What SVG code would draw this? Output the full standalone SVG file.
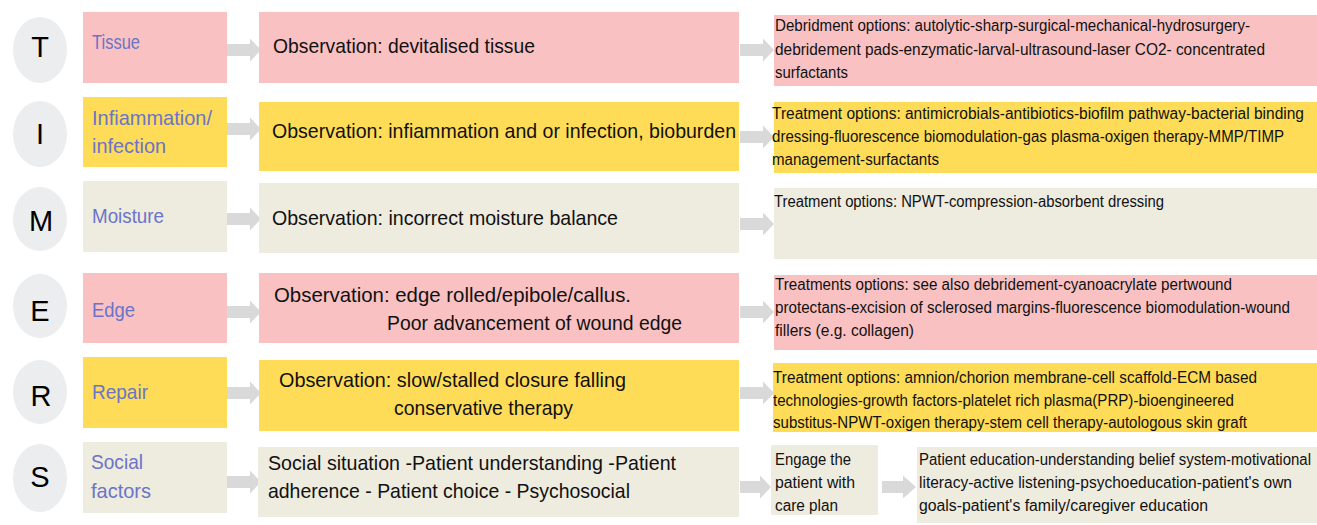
<svg xmlns="http://www.w3.org/2000/svg" width="1317" height="525" viewBox="0 0 1317 525">
<style>
.pink{fill:#f9c1c1}
.yel{fill:#ffdc57}
.beige{fill:#eeebdf}
.circ{fill:#ecedee}
.letter{font-family:"Liberation Sans",Arial,sans-serif;font-size:29px;fill:#000;text-anchor:middle}
.lab{font-family:"Liberation Sans",Arial,sans-serif;font-size:21px;fill:#6a74c8}
.obs{font-family:"Liberation Sans",Arial,sans-serif;font-size:21px;fill:#111}
.opt{font-family:"Liberation Sans",Arial,sans-serif;font-size:16px;fill:#111}
.arr{fill:#d9d9d9}
</style>
<rect width="1317" height="525" fill="#fff"/>

<g id="connectors">
<path class="arr" d="M227,44 H250 V38.5 L261,50 L250,61.5 V56 H227 Z"/>
<path class="arr" d="M227,123 H250 V117.5 L261,129 L250,140.5 V135 H227 Z"/>
<path class="arr" d="M227,213 H250 V207.5 L261,219 L250,230.5 V225 H227 Z"/>
<path class="arr" d="M227,306 H250 V300.5 L261,312 L250,323.5 V318 H227 Z"/>
<path class="arr" d="M227,387 H250 V381.5 L261,393 L250,404.5 V399 H227 Z"/>
<path class="arr" d="M227,476 H250 V470.5 L261,482 L250,493.5 V488 H227 Z"/>

<path class="arr" d="M740,44 H763 V38.5 L774,50 L763,61.5 V56 H740 Z"/>
<path class="arr" d="M740,131 H763 V125.5 L774,137 L763,148.5 V143 H740 Z"/>
<path class="arr" d="M740,218 H763 V212.5 L774,224 L763,235.5 V230 H740 Z"/>
<path class="arr" d="M740,306 H763 V300.5 L774,312 L763,323.5 V318 H740 Z"/>
<path class="arr" d="M740,387 H763 V381.5 L774,393 L763,404.5 V399 H740 Z"/>
<path class="arr" d="M740,481 H760 V475.5 L771,487 L760,498.5 V493 H740 Z"/>
<path class="arr" d="M882,481 H903 V475.5 L916,487 L903,498.5 V493 H882 Z"/>
</g>

<g id="row-T">
<ellipse class="circ" cx="40" cy="50" rx="27" ry="33"/>
<text class="letter" x="40" y="57">T</text>
<rect class="pink" x="83" y="12" width="144" height="71"/>
<text class="lab" x="92" y="49" textLength="48" lengthAdjust="spacingAndGlyphs">Tissue</text>
<rect class="pink" x="259" y="12" width="480" height="71"/>
<text class="obs" x="273" y="53" textLength="262" lengthAdjust="spacingAndGlyphs">Observation: devitalised tissue</text>
<rect class="pink" x="774" y="15" width="543" height="71"/>
<text class="opt" x="775" y="31" textLength="475" lengthAdjust="spacingAndGlyphs">Debridment options: autolytic-sharp-surgical-mechanical-hydrosurgery-</text>
<text class="opt" x="775" y="55" textLength="490" lengthAdjust="spacingAndGlyphs">debridement pads-enzymatic-larval-ultrasound-laser CO2- concentrated</text>
<text class="opt" x="775" y="78" textLength="73" lengthAdjust="spacingAndGlyphs">surfactants</text>
</g>

<g id="row-I">
<ellipse class="circ" cx="40" cy="134" rx="27" ry="33"/>
<text class="letter" x="40" y="144">I</text>
<rect class="yel" x="83" y="97" width="144" height="70"/>
<text class="lab" x="92" y="125" textLength="120" lengthAdjust="spacingAndGlyphs">Infiammation/</text>
<text class="lab" x="92" y="153" textLength="74" lengthAdjust="spacingAndGlyphs">infection</text>
<rect class="yel" x="259" y="102" width="480" height="69"/>
<text class="obs" x="272" y="138" textLength="464" lengthAdjust="spacingAndGlyphs">Observation: infiammation and or infection, bioburden</text>
<rect class="yel" x="774" y="102" width="543" height="71"/>
<text class="opt" x="772" y="119" textLength="532" lengthAdjust="spacingAndGlyphs">Treatment options: antimicrobials-antibiotics-biofilm pathway-bacterial binding</text>
<text class="opt" x="772" y="142" textLength="512" lengthAdjust="spacingAndGlyphs">dressing-fluorescence biomodulation-gas plasma-oxigen therapy-MMP/TIMP</text>
<text class="opt" x="772" y="165" textLength="167" lengthAdjust="spacingAndGlyphs">management-surfactants</text>
</g>

<g id="row-M">
<ellipse class="circ" cx="40" cy="219" rx="27" ry="32"/>
<text class="letter" x="41" y="231">M</text>
<rect class="beige" x="83" y="181" width="144" height="71"/>
<text class="lab" x="92" y="223" textLength="72" lengthAdjust="spacingAndGlyphs">Moisture</text>
<rect class="beige" x="259" y="183" width="480" height="70"/>
<text class="obs" x="272" y="225" textLength="346" lengthAdjust="spacingAndGlyphs">Observation: incorrect moisture balance</text>
<rect class="beige" x="774" y="188" width="543" height="71"/>
<text class="opt" x="774" y="207" textLength="390" lengthAdjust="spacingAndGlyphs">Treatment options: NPWT-compression-absorbent dressing</text>
</g>

<g id="row-E">
<ellipse class="circ" cx="40" cy="306" rx="27" ry="32"/>
<text class="letter" x="40" y="321">E</text>
<rect class="pink" x="83" y="273" width="144" height="70"/>
<text class="lab" x="92" y="317" textLength="43" lengthAdjust="spacingAndGlyphs">Edge</text>
<rect class="pink" x="259" y="273" width="480" height="70"/>
<text class="obs" x="274" y="302" textLength="357" lengthAdjust="spacingAndGlyphs">Observation: edge rolled/epibole/callus.</text>
<text class="obs" x="387" y="330" textLength="295" lengthAdjust="spacingAndGlyphs">Poor advancement of wound edge</text>
<rect class="pink" x="774" y="275" width="543" height="75"/>
<text class="opt" x="775" y="290" textLength="457" lengthAdjust="spacingAndGlyphs">Treatments options: see also debridement-cyanoacrylate pertwound</text>
<text class="opt" x="775" y="313" textLength="515" lengthAdjust="spacingAndGlyphs">protectans-excision of sclerosed margins-fluorescence biomodulation-wound</text>
<text class="opt" x="775" y="336" textLength="139" lengthAdjust="spacingAndGlyphs">fillers (e.g. collagen)</text>
</g>

<g id="row-R">
<ellipse class="circ" cx="40" cy="392" rx="27" ry="32"/>
<text class="letter" x="41" y="406">R</text>
<rect class="yel" x="83" y="357" width="144" height="71"/>
<text class="lab" x="92" y="399" textLength="56" lengthAdjust="spacingAndGlyphs">Repair</text>
<rect class="yel" x="259" y="360" width="480" height="71"/>
<text class="obs" x="279" y="387" textLength="347" lengthAdjust="spacingAndGlyphs">Observation: slow/stalled closure falling</text>
<text class="obs" x="394" y="415" textLength="179" lengthAdjust="spacingAndGlyphs">conservative therapy</text>
<rect class="yel" x="773" y="363" width="544" height="69"/>
<text class="opt" x="773" y="383" textLength="484" lengthAdjust="spacingAndGlyphs">Treatment options: amnion/chorion membrane-cell scaffold-ECM based</text>
<text class="opt" x="773" y="406" textLength="461" lengthAdjust="spacingAndGlyphs">technologies-growth factors-platelet rich plasma(PRP)-bioengineered</text>
<text class="opt" x="773" y="428" textLength="474" lengthAdjust="spacingAndGlyphs">substitus-NPWT-oxigen therapy-stem cell therapy-autologous skin graft</text>
</g>

<g id="row-S">
<ellipse class="circ" cx="40" cy="478" rx="27" ry="34"/>
<text class="letter" x="40" y="487">S</text>
<rect class="beige" x="83" y="442" width="144" height="71"/>
<text class="lab" x="91" y="469" textLength="52" lengthAdjust="spacingAndGlyphs">Social</text>
<text class="lab" x="91" y="498" textLength="60" lengthAdjust="spacingAndGlyphs">factors</text>
<rect class="beige" x="258" y="447" width="481" height="70"/>
<text class="obs" x="268" y="470" textLength="408" lengthAdjust="spacingAndGlyphs">Social situation -Patient understanding -Patient</text>
<text class="obs" x="268" y="498" textLength="362" lengthAdjust="spacingAndGlyphs">adherence - Patient choice - Psychosocial</text>
</g>

<g id="engage">
<rect class="beige" x="771" y="445" width="107" height="70"/>
<text class="opt" x="775" y="465" textLength="76" lengthAdjust="spacingAndGlyphs">Engage the</text>
<text class="opt" x="775" y="488" textLength="80" lengthAdjust="spacingAndGlyphs">patient with</text>
<text class="opt" x="775" y="511" textLength="63" lengthAdjust="spacingAndGlyphs">care plan</text>
</g>

<g id="patient-education">
<rect class="beige" x="917" y="447" width="400" height="76"/>
<text class="opt" x="919" y="465" textLength="392" lengthAdjust="spacingAndGlyphs">Patient education-understanding belief system-motivational</text>
<text class="opt" x="919" y="488" textLength="373" lengthAdjust="spacingAndGlyphs">literacy-active listening-psychoeducation-patient's own</text>
<text class="opt" x="919" y="511" textLength="289" lengthAdjust="spacingAndGlyphs">goals-patient's family/caregiver education</text>
</g>
</svg>
